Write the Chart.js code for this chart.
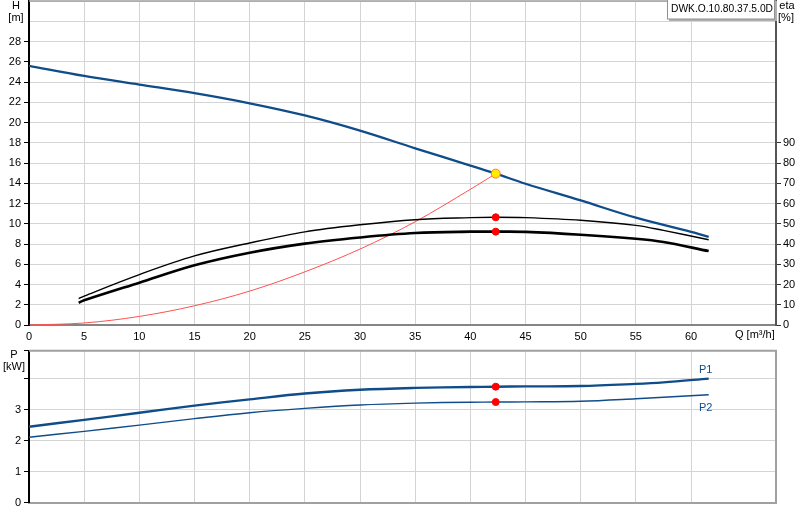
<!DOCTYPE html>
<html>
<head>
<meta charset="utf-8">
<script src="https://cdn.jsdelivr.net/npm/chart.js@4.4.1/dist/chart.umd.min.js"></script>
<style>
  body { margin: 0; background: #fff; }
  #wrap { position: relative; width: 800px; height: 520px; }
  canvas { position: absolute; left: 0; }
  #top { top: 0; }
  #bottom { top: 345px; }
</style>
</head>
<body>
<div id="wrap">
  <canvas id="top" width="800" height="345"></canvas>
  <canvas id="bottom" width="800" height="175"></canvas>
</div>
<script>
// Curve data (Q in m3/h)
const qH = [0, 5, 10, 15, 20, 25, 30, 35, 40, 42.3, 45, 50, 55, 60, 61.6];
const headH = [25.6, 24.6, 23.75, 22.9, 21.9, 20.7, 19.2, 17.45, 15.75, 14.95, 13.95, 12.3, 10.6, 9.2, 8.7];

const qEta = [4.5, 5, 10, 15, 20, 25, 30, 35, 40, 42.3, 45, 50, 55, 57.5, 61.6];
const etaUpper = [13, 14.3, 24.9, 34.1, 40.5, 46, 49.5, 52, 53, 53.2, 53, 51.7, 49.2, 46.7, 42.1];
const etaLower = [11, 12.2, 20.9, 29.5, 35.7, 40.2, 43.2, 45.4, 46.1, 46.1, 46, 44.6, 42.6, 41, 36.5];

const qSys = [0, 5, 10, 15, 20, 25, 30, 35, 40, 42.3];
const headSys = [0, 0.2, 0.85, 1.9, 3.35, 5.25, 7.5, 10.2, 13.4, 14.95];

const qP = [0, 5, 10, 15, 20, 25, 30, 35, 40, 42.3, 45, 50, 55, 57.5, 61.6];
const powerP1 = [2.45, 2.67, 2.9, 3.13, 3.33, 3.52, 3.64, 3.7, 3.73, 3.74, 3.75, 3.76, 3.83, 3.88, 4.0];
const powerP2 = [2.11, 2.3, 2.5, 2.71, 2.9, 3.04, 3.15, 3.21, 3.24, 3.245, 3.25, 3.27, 3.35, 3.4, 3.48];

// duty point
const dutyQ = 42.3;
const dutyH = 14.95;
const dutyEta = [53.2, 46.1];
const dutyP = [3.74, 3.245];

const pumpName = 'DWK.O.10.80.37.5.0D';

const blue = '#0f4c8a';
const gridCol = '#d4d4d4';
const fontName = '"Liberation Sans", Arial, sans-serif';

Chart.defaults.font.family = fontName;
Chart.defaults.font.size = 11;
Chart.defaults.color = '#000';
Chart.defaults.animation = false;

const pts = (xs, ys) => xs.map((x, i) => ({ x: x, y: ys[i] }));

function curve(data, color, width, axis) {
  return {
    data: data, borderColor: color, borderWidth: width, pointRadius: 0,
    tension: 0.35, fill: false, yAxisID: axis
  };
}
function marker(x, y, fill, stroke, r, axis) {
  return {
    data: [{ x: x, y: y }], showLine: false, pointRadius: r,
    pointBackgroundColor: fill, pointBorderColor: stroke, pointBorderWidth: 1, yAxisID: axis
  };
}

// keep chart area fixed: no extra padding for half tick labels
function fixV(width) {
  return s => { s.width = width; s.paddingTop = 0; s.paddingBottom = 0; };
}

const xScale = (showLabels) => ({
  type: 'linear', min: 0, max: 67.7,
  ticks: {
    display: showLabels, stepSize: 5, padding: 5,
    callback: v => (v > 60 ? '' : v)
  },
  grid: { color: gridCol, drawTicks: false },
  border: { color: '#858585', width: 2 },
  afterFit: s => {
    s.height = showLabels ? 20 : 17.3;
    s.paddingLeft = 0; s.paddingRight = 0;
  }
});

// top chart: head + efficiency
const topTexts = {
  id: 'topTexts',
  afterDraw(chart) {
    const ctx = chart.ctx, a = chart.chartArea;
    ctx.save();
    ctx.strokeStyle = '#a0a0a0';
    ctx.lineWidth = 1.5;
    ctx.beginPath();
    ctx.moveTo(a.left, a.top); ctx.lineTo(a.right, a.top);
    ctx.stroke();

    ctx.font = '11px ' + fontName;
    ctx.fillStyle = '#000';
    ctx.textAlign = 'center';
    ctx.textBaseline = 'middle';
    ctx.fillText('H', 16, 6);
    ctx.fillText('[m]', 16, 17.5);
    ctx.fillText('eta', 787, 6);
    ctx.fillText('[%]', 786, 17.5);
    ctx.textAlign = 'left';
    ctx.fillText('Q [m³/h]', 735, 335);

    // name box
    ctx.fillStyle = '#b0b0b0';
    ctx.fillRect(669, 1, 108, 20);
    ctx.fillStyle = '#fff';
    ctx.fillRect(667, -1, 108, 20);
    ctx.strokeStyle = '#909090';
    ctx.lineWidth = 1;
    ctx.strokeRect(667.5, -1, 107, 20);
    ctx.fillStyle = '#000';
    const w = ctx.measureText(pumpName).width;
    ctx.font = (11 * 102 / w).toFixed(2) + 'px ' + fontName;
    ctx.fillText(pumpName, 671, 9);
    ctx.restore();
  }
};

new Chart(document.getElementById('top'), {
  type: 'line',
  data: {
    datasets: [
      marker(dutyQ, dutyH, '#ffee00', '#ff7a30', 4.5, 'y'),
      marker(dutyQ, dutyEta[0], '#ff0000', '#ff0000', 3.5, 'eta'),
      marker(dutyQ, dutyEta[1], '#ff0000', '#ff0000', 3.5, 'eta'),
      curve(pts(qH, headH), blue, 2.3, 'y'),
      curve(pts(qEta, etaUpper), '#000', 1.4, 'eta'),
      curve(pts(qEta, etaLower), '#000', 2.6, 'eta'),
      curve(pts(qSys, headSys), '#ff5050', 1, 'y')
    ]
  },
  options: {
    responsive: false,
    devicePixelRatio: 1,
    layout: { autoPadding: false, padding: { top: 1, left: 0, right: 0, bottom: 0 } },
    plugins: { legend: { display: false }, tooltip: { enabled: false } },
    scales: {
      x: xScale(true),
      y: {
        type: 'linear', position: 'left', min: 0, max: 32,
        ticks: { stepSize: 2, padding: 3, callback: v => (v > 28 ? '' : v) },
        grid: {
          color: gridCol, tickLength: 5,
          tickColor: c => (c.tick && c.tick.value > 28 ? 'rgba(0,0,0,0)' : '#000')
        },
        border: { color: '#000', width: 2 },
        afterFit: fixV(29)
      },
      eta: {
        type: 'linear', position: 'right', min: 0, max: 160,
        ticks: { stepSize: 10, padding: 2, callback: v => (v > 90 ? null : v) },
        grid: { drawOnChartArea: false, tickLength: 5, tickColor: '#333' },
        border: { color: '#555', width: 2 },
        afterFit: fixV(24)
      }
    }
  },
  plugins: [topTexts]
});

// bottom chart: power
const bottomTexts = {
  id: 'bottomTexts',
  afterDraw(chart) {
    const ctx = chart.ctx, a = chart.chartArea;
    const xs = chart.scales.x, ys = chart.scales.y;
    ctx.save();
    ctx.strokeStyle = '#a0a0a0';
    ctx.lineWidth = 2;
    ctx.beginPath();
    ctx.moveTo(a.left, a.top); ctx.lineTo(a.right, a.top); ctx.lineTo(a.right, a.bottom);
    ctx.stroke();

    ctx.font = '11px ' + fontName;
    ctx.fillStyle = '#000';
    ctx.textAlign = 'center';
    ctx.textBaseline = 'middle';
    ctx.fillText('P', 14, 10);
    ctx.fillText('[kW]', 14, 22);

    const last = qP.length - 1;
    const lx = xs.getPixelForValue(qP[last]) - 3;
    ctx.fillStyle = blue;
    ctx.fillText('P1', lx, ys.getPixelForValue(powerP1[last]) - 9);
    ctx.fillText('P2', lx, ys.getPixelForValue(powerP2[last]) + 13);
    ctx.restore();
  }
};

new Chart(document.getElementById('bottom'), {
  type: 'line',
  data: {
    datasets: [
      marker(dutyQ, dutyP[0], '#ff0000', '#ff0000', 3.5, 'y'),
      marker(dutyQ, dutyP[1], '#ff0000', '#ff0000', 3.5, 'y'),
      curve(pts(qP, powerP1), blue, 2.4, 'y'),
      curve(pts(qP, powerP2), blue, 1.4, 'y')
    ]
  },
  options: {
    responsive: false,
    devicePixelRatio: 1,
    layout: { autoPadding: false, padding: { top: 5.7, left: 0, right: 24, bottom: 0 } },
    plugins: { legend: { display: false }, tooltip: { enabled: false } },
    scales: {
      x: Object.assign(xScale(false), { border: { color: '#a0a0a0', width: 2 } }),
      y: {
        type: 'linear', position: 'left', min: 0, max: 4.9,
        ticks: { stepSize: 1, padding: 3, callback: v => (v > 3 ? '' : v) },
        grid: { color: gridCol, tickLength: 5, tickColor: '#000' },
        border: { color: '#000', width: 2 },
        afterFit: fixV(29)
      }
    }
  },
  plugins: [bottomTexts]
});
</script>
</body>
</html>
